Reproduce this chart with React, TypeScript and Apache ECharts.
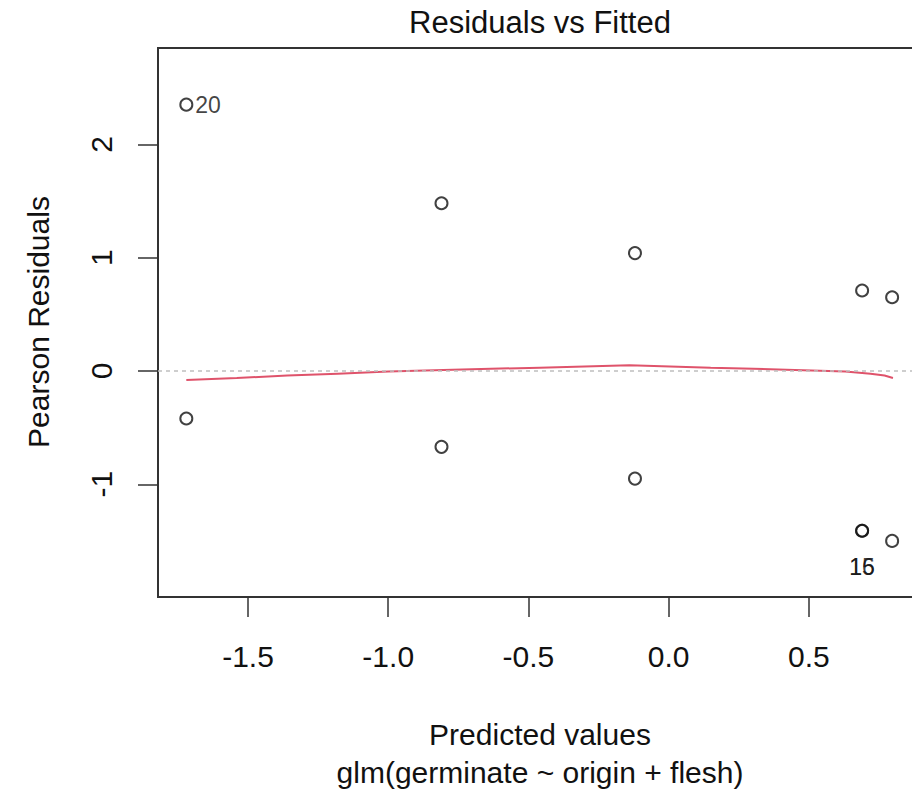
import React, { useEffect, useRef } from "react";
import * as echarts from "echarts";

// Fitted (predicted) values and Pearson residuals
const fittedValues = [-1.72, -1.72, -0.81, -0.81, -0.12, -0.12, 0.69, 0.69, 0.69, 0.797, 0.797];
const pearsonResiduals = [2.35, -0.42, 1.48, -0.67, 1.04, -0.95, 0.71, -1.41, -1.41, 0.65, -1.5];
const pointIds = ["20", "", "", "", "", "", "", "15", "16", "", ""];

// Smoother (red) line
const smoothX = [-1.72, -1.54, -1.36, -1.18, -1.0, -0.77, -0.46, -0.14, 0.15, 0.42, 0.63, 0.72, 0.77, 0.8];
const smoothY = [-0.079, -0.062, -0.041, -0.024, -0.006, 0.011, 0.029, 0.05, 0.029, 0.011, -0.006, -0.024, -0.041, -0.062];

const xTicks = [-1.5, -1.0, -0.5, 0.0, 0.5];
const yTicks = [-1, 0, 1, 2];

const FONT = "'Liberation Sans', Arial, sans-serif";

export default function App() {
  const ref = useRef<HTMLDivElement>(null);
  useEffect(() => {
    if (!ref.current) return;
    const chart = echarts.init(ref.current, undefined, { renderer: "svg" });
    const points = fittedValues.map((x, i) => {
      const id = pointIds[i];
      const item: any = { value: [x, pearsonResiduals[i]] };
      if (id) {
        const below = i >= 7;
        item.label = {
          show: true,
          formatter: id,
          position: below ? "bottom" : "right",
          distance: below ? 18 : 2,
          offset: below ? [6, 0] : [0, 0],
          fontSize: 23,
          color: "#111",
          fontFamily: FONT,
        };
      }
      return item;
    });
    chart.setOption({
      animation: false,
      backgroundColor: "#fff",
      textStyle: { fontFamily: FONT },
      grid: {
        left: 158,
        top: 48,
        width: 763,
        height: 549,
        show: true,
        borderColor: "#333",
        borderWidth: 2,
        backgroundColor: "transparent",
      },
      xAxis: {
        type: "value",
        min: -1.821,
        max: 0.9,
        axisLine: { show: false, onZero: false },
        splitLine: { show: false },
        axisTick: {
          show: true,
          length: 20,
          customValues: xTicks,
          lineStyle: { color: "#333", width: 1.5 },
        },
        axisLabel: {
          customValues: xTicks,
          formatter: (v: number) => v.toFixed(1),
          fontSize: 30,
          color: "#111",
          margin: 44,
          fontFamily: FONT,
        },
      },
      yAxis: {
        type: "value",
        min: -1.995,
        max: 2.85,
        axisLine: { show: false, onZero: false },
        splitLine: { show: false },
        axisTick: {
          show: true,
          length: 20,
          customValues: yTicks,
          lineStyle: { color: "#333", width: 1.5 },
        },
        axisLabel: {
          customValues: yTicks,
          formatter: (v: number) => String(v),
          rotate: 90,
          fontSize: 30,
          color: "#111",
          margin: 42,
          fontFamily: FONT,
        },
      },
      series: [
        {
          type: "line",
          data: smoothX.map((x, i) => [x, smoothY[i]]),
          showSymbol: false,
          symbol: "none",
          lineStyle: { color: "#DF536B", width: 2 },
          z: 3,
          markLine: {
            silent: true,
            symbol: "none",
            label: { show: false },
            lineStyle: { color: "#BEBEBE", type: [4, 4], width: 1.5 },
            data: [{ yAxis: 0 }],
          },
        },
        {
          type: "scatter",
          data: points,
          symbol: "circle",
          symbolSize: 12,
          itemStyle: { color: "transparent", borderColor: "#111", borderWidth: 2 },
          labelLayout: { hideOverlap: false },
          z: 4,
        },
      ],
      graphic: [
        {
          type: "text",
          x: 540,
          y: 22,
          style: {
            text: "Residuals vs Fitted",
            fontSize: 31,
            fontFamily: FONT,
            fill: "#111",
            textAlign: "center",
            textVerticalAlign: "middle",
          },
        },
        {
          type: "text",
          x: 540,
          y: 734,
          style: {
            text: "Predicted values",
            fontSize: 30,
            fontFamily: FONT,
            fill: "#111",
            textAlign: "center",
            textVerticalAlign: "middle",
          },
        },
        {
          type: "text",
          x: 540,
          y: 772,
          style: {
            text: "glm(germinate ~ origin + flesh)",
            fontSize: 30,
            fontFamily: FONT,
            fill: "#111",
            textAlign: "center",
            textVerticalAlign: "middle",
          },
        },
        {
          type: "text",
          x: 38,
          y: 322,
          rotation: Math.PI / 2,
          style: {
            text: "Pearson Residuals",
            fontSize: 30,
            fontFamily: FONT,
            fill: "#111",
            textAlign: "center",
            textVerticalAlign: "middle",
          },
        },
      ],
    });
    return () => chart.dispose();
  }, []);
  return (
    <div
      style={{
        position: "fixed",
        left: 0,
        top: 0,
        width: 912,
        height: 791,
        overflow: "hidden",
        background: "#fff",
      }}
    >
      <div ref={ref} style={{ width: 930, height: 791 }} />
    </div>
  );
}
